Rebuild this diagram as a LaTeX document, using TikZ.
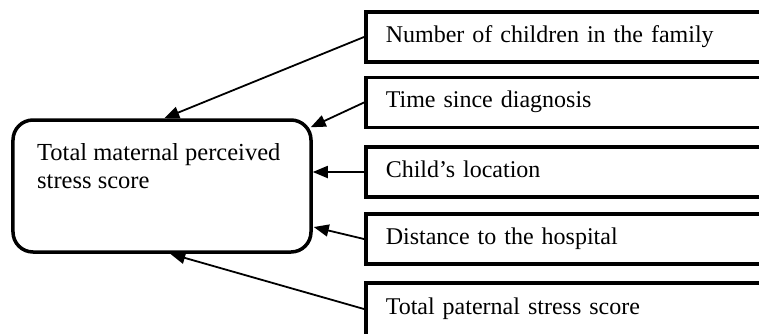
\documentclass[tikz,border=0pt]{standalone}
\usepackage{fontspec}
\setmainfont{Liberation Serif}
\usetikzlibrary{arrows.meta,calc}
\begin{document}
\begin{tikzpicture}[x=1bp,y=-1bp,
  txt/.style={font=\fontsize{24.5bp}{28bp}\selectfont},
  side/.style={font=\fontsize{24bp}{28bp}\selectfont, draw, line width=3.5bp, rectangle, anchor=west,
    minimum height=50bp, inner xsep=20bp, text width=380bp, align=left,
    text height=15bp, text depth=5bp},
  mainbox/.style={draw, line width=3.5bp, rounded corners=20bp,
    minimum width=298bp, minimum height=132bp},
  arr/.style={line width=1.8bp, -{Triangle[length=15bp,width=12bp]}}]
\useasboundingbox (0,0) rectangle (759,333);
\node[mainbox] (m) at (162,186) {};
\node[txt, anchor=north west, inner sep=0pt, align=left] (mt) at (37,143.5)
  {Total maternal perceived\\stress score};
\node[side] (b1) at (364,37) {Number of children in the family};
\node[side] (b2) at (364,102.5) {Time since diagnosis};
\node[side] (b3) at (364,172) {Child's location};
\node[side] (b4) at (364,239) {Distance to the hospital};
\node[side, minimum height=58bp, text depth=11bp] (b5) at (364,312) {Total paternal stress score};
\coordinate (t1) at ($(m.north west)+(153,0)$);
\coordinate (t2) at ($(m.north east)+(-2,9)$);
\coordinate (t3) at (b3.west -| m.east);
\coordinate (t4) at ($(m.east)+(1,41)$);
\coordinate (t5) at ($(m.south west)+(159,0)$);
\draw[arr] (b1.west) -- (t1);
\draw[arr] (b2.west) -- (t2);
\draw[arr] (b3.west) -- (t3);
\draw[arr] (b4.west) -- (t4);
\draw[arr] ($(b5.west)+(0,-3)$) -- (t5);
\end{tikzpicture}
\end{document}
